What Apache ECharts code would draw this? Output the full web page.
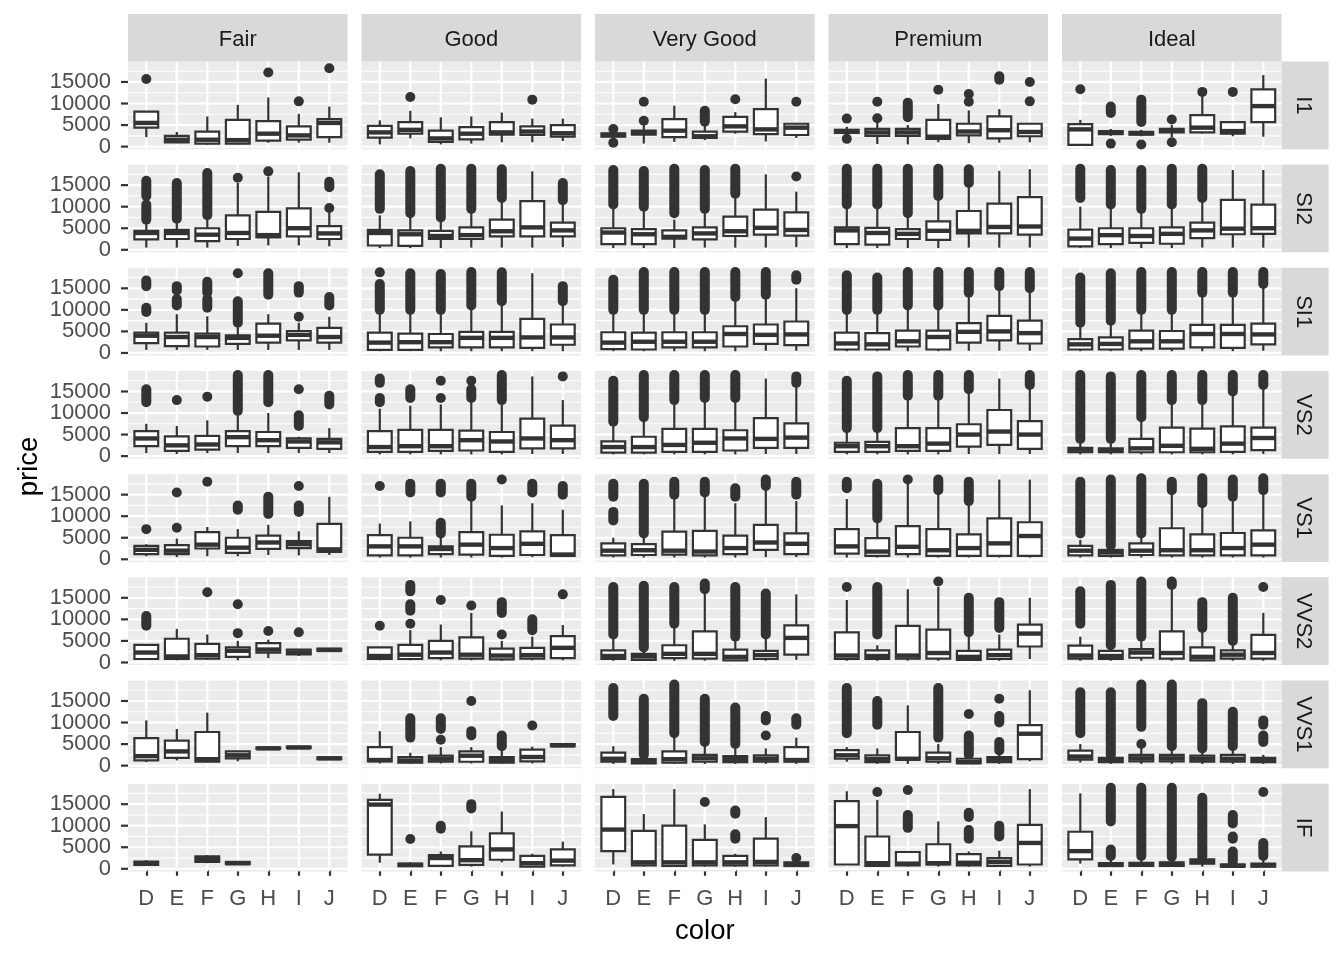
<!DOCTYPE html>
<html><head><meta charset="utf-8">
<script src="https://cdn.jsdelivr.net/npm/echarts@6/dist/echarts.min.js"></script>
<style>html,body{margin:0;padding:0;background:#fff}#c{width:1344px;height:960px}</style>
</head><body><div id="c"></div>
<script>
const cuts = ['Fair', 'Good', 'Very Good', 'Premium', 'Ideal'];
const colors = ['D', 'E', 'F', 'G', 'H', 'I', 'J'];
const clarities = ['I1', 'SI2', 'SI1', 'VS2', 'VS1', 'VVS2', 'VVS1', 'IF'];
const yTicks = [0, 5000, 10000, 15000];
const yMinor = [2500, 7500, 12500, 17500];

// box statistics per clarity: [cut][color] = [lower whisker, Q1, median, Q3, upper whisker]
const box_I1 = [
  [[2200,4400,5500,8100,8100],[800,1000,1600,2500,3400],[400,700,1600,3500,7000],[500,700,1500,6200,9700],[900,1400,3000,5900,11400],[900,1600,2600,4700,7600],[900,2200,5500,6400,9300]],
  [[500,2100,3300,4800,6100],[1900,3000,3900,5700,8300],[500,1100,1900,3700,6800],[700,1700,3000,4500,7000],[1000,2800,3300,5700,7900],[1000,2700,3500,4700,6500],[1300,2300,3100,5000,6500]],
  [[1600,2300,2700,3100,3700],[700,2800,3200,3700,5000],[1100,2200,3700,6400,9500],[1500,2000,2400,3500,5000],[3000,3500,4700,6900,8000],[1200,2900,4000,8700,15800],[2000,2700,4400,5300,5500]],
  [[2600,3200,3600,3900,4600],[600,2500,3300,4100,6000],[500,2500,3300,4100,5000],[1000,1800,2300,6200,9900],[800,2600,3500,5300,8400],[900,1900,3800,7000,8700],[1000,2400,3400,5300,5500]],
  [[300,400,4000,5200,6200],[2500,2900,3300,3600,4100],[2400,2800,3100,3400,3900],[2200,3300,3700,4100,5000],[3000,3300,4400,7300,11800],[2400,3000,3600,5700,5700],[2300,5700,9400,13300,16600]]
];
// outliers: single values, or [from, to] for a dense run of points
const out_I1 = [
  [[15700],[],[],[],[17200],[10500],[18200]],
  [[],[11500],[],[],[],[10900],[]],
  [[900,4100],[6000,10400],[],[[5800,8300]],[11000],[],[10400]],
  [[1800,6500],[6600,10400],[[6800,10200]],[13200],[10400,12200],[[15500,16300]],[10500,15000]],
  [[13300],[700,[7800,9300]],[500,[5700,10900]],[1000,6300],[12700],[12700],[]]
];

const box_SI2 = [
  [[500,2400,3900,4400,6500],[500,2500,3900,4600,6500],[500,2000,3500,5000,7000],[900,2500,3900,8000,15500],[1000,2900,3400,8800,17000],[1000,3100,5000,9600,18000],[800,2500,3800,5500,9000]],
  [[400,1000,3900,4600,8000],[400,900,3600,4500,8000],[400,2500,3200,4400,7000],[500,2500,3400,5200,9000],[500,3100,4300,7000,11500],[500,3100,5200,11300,18200],[600,3100,4500,6300,10500]],
  [[400,1300,4000,5000,10000],[400,1300,3600,4800,9500],[400,2600,3000,4500,7000],[500,2400,3800,5200,9000],[500,3200,4300,7700,12500],[500,3500,5100,9300,17500],[600,3300,4600,8700,13500]],
  [[400,1300,4500,5200,10000],[400,1200,3900,5100,10000],[400,2500,3700,4800,8000],[400,2300,4400,6600,12000],[500,3800,4400,9000,15000],[500,3800,5300,10700,18300],[500,3500,5400,12200,18700]],
  [[400,800,2600,4700,10000],[400,1300,3400,5000,10000],[400,1600,3200,5000,9000],[400,1400,3700,5200,10000],[500,2700,4500,6300,11500],[500,3600,4900,11600,18500],[500,3700,5000,10500,18500]]
];
const out_SI2 = [
  [[[7000,10500],[12500,16000]],[[7200,15500]],[[8000,17800]],[16700],[18200],[],[9700,[14500,15800]]],
  [[[9500,17500]],[[8500,18300]],[[7500,18800]],[[9500,18800]],[[12000,18700]],[],[[11500,15500]]],
  [[[10500,18500]],[[10000,18300]],[[8500,18800]],[[9500,18500]],[[13000,18800]],[],[17000]],
  [[[10500,18800]],[[10500,18800]],[[8500,18800]],[[12500,18800]],[[15500,18700]],[],[]],
  [[[12000,18800]],[[10500,18500]],[[9500,18500]],[[10500,18800]],[[12000,18800]],[],[]]
];

const box_SI1 = [
  [[700,2300,4000,4700,7000],[700,1600,3700,4700,9000],[700,1500,3700,4500,8500],[700,2100,3500,4100,6000],[700,2400,4000,6800,9000],[700,2900,4200,5100,7000],[700,2400,3700,5800,8400]],
  [[400,700,2400,4700,9500],[400,700,2500,4500,9500],[400,1300,2500,4400,9000],[400,1300,3500,4900,10000],[400,1300,3500,4900,11000],[400,1200,3600,7900,18500],[400,1900,3600,6600,11500]],
  [[400,900,2400,4800,9500],[400,800,2600,4700,9500],[400,1300,2600,4800,9500],[400,1300,2600,4800,9500],[400,1500,4400,6200,12500],[500,2100,4200,6600,13000],[500,1800,4300,7300,15000]],
  [[400,800,2200,4700,9500],[400,800,2000,4600,9500],[400,1500,2700,5200,10500],[400,800,3700,5200,10500],[500,2400,4900,6900,13500],[500,2900,5000,8600,15000],[500,2200,4600,7500,14500]],
  [[400,800,2000,3200,6500],[400,800,2100,3600,7000],[400,1000,2700,5200,9500],[400,1000,2700,5100,9500],[400,1300,4400,6500,13500],[400,1200,4400,6500,13500],[500,2000,4300,6800,15500]]
];
const out_SI1 = [
  [[[9500,10500],[15500,16800]],[[11000,12500],[14500,15500]],[[10500,12500],[14000,16500]],[[7000,12000],18500],[[13500,18500]],[8400,[14000,15500]],[[11000,13000]]],
  [[[10000,16000],18700],[[10000,18500]],[[10000,18300]],[[11000,18800]],[[12000,18700]],[],[[12000,15500]]],
  [[[10000,17000]],[[10000,18800]],[[10000,18800]],[[10000,18800]],[[13000,18800]],[[13500,18800]],[[17000,18000]]],
  [[[10000,18000]],[[10000,17500]],[[11000,18800]],[[11000,18800]],[[14000,18800]],[[15500,18800]],[[15000,18800]]],
  [[[7000,17500]],[[7500,18500]],[[10000,18800]],[[10000,18800]],[[14000,18800]],[[14000,18800]],[[16000,18800]]]
];

const box_VS2 = [
  [[700,2300,4100,5800,7500],[500,1200,2500,4600,7000],[700,1500,2700,4700,8300],[700,2300,4400,5800,9500],[700,2300,3700,5600,10000],[700,1900,3400,4100,4500],[700,1700,3200,4000,6500]],
  [[400,1000,2100,5800,11000],[400,1000,2300,6100,11700],[400,1200,2300,6100,12000],[400,1300,3700,5900,12500],[400,1000,3400,5600,12000],[500,1800,4100,8700,18500],[500,1800,3700,7100,13000]],
  [[400,800,2100,3400,7500],[400,800,2100,4500,8500],[400,1000,2600,6300,12500],[400,1000,3100,6300,13000],[400,1300,4100,6000,13000],[500,1900,4000,8800,18000],[500,1900,4300,7600,16000]],
  [[400,1000,2300,3100,6000],[400,1000,2300,3300,6000],[400,1200,2300,6500,13500],[400,1200,2900,6500,13500],[500,2200,5000,7400,15000],[500,2600,5700,10700,18000],[500,1700,5000,8100,16000]],
  [[400,900,1500,1900,3500],[400,900,1300,1800,3500],[400,900,1800,4000,8500],[400,900,2400,6600,12500],[400,900,1700,6400,12500],[400,1000,2900,6900,14500],[500,1400,4200,6600,16000]]
];
const out_VS2 = [
  [[[12500,15500]],[13000],[13800],[[10500,18800]],[[12500,18800]],[[7000,9500],15500],[[12000,14000]]],
  [[[12500,13500],[17000,18000]],[[13500,15500]],[13500,17500],[[13500,15500],17500],[[13000,18800]],[],[18500]],
  [[[8000,17500]],[[9000,18800]],[[13000,18800]],[[13500,18800]],[[13500,18800]],[],[[17000,18500]]],
  [[[6500,17500]],[[6500,18500]],[[14000,18800]],[[14000,18800]],[[15500,18800]],[],[[16500,18800]]],
  [[[4000,18800]],[[4000,18500]],[[9000,18800]],[[13000,18800]],[[13000,18800]],[[15000,18800]],[[16500,18800]]]
];

const box_VS1 = [
  [[700,1200,2200,3100,3500],[500,1200,2000,3300,4800],[700,2500,3400,6300,7500],[700,1500,2700,5000,7000],[1000,2400,3900,5500,8000],[900,2600,3500,4200,6500],[1000,1700,2300,8200,14500]],
  [[400,900,3000,5600,8300],[400,900,3000,5000,8800],[400,1200,2400,3000,5000],[400,1100,3400,6300,14000],[400,800,2600,5700,12500],[500,1000,3600,6500,13000],[500,800,1100,5600,11500]],
  [[400,900,2000,3700,5000],[400,1000,2100,3500,5500],[400,1100,2000,6400,14500],[400,900,1800,6600,15000],[400,1200,2600,5500,13000],[500,2200,3900,8000,16500],[500,1200,3600,6000,13500]],
  [[400,1300,3000,7000,14000],[400,800,1800,4900,9000],[400,1200,2900,7700,18000],[400,800,2100,7000,15500],[400,800,2600,5800,12500],[400,800,3700,9500,18500],[400,800,5400,8600,18500]],
  [[400,900,2000,3100,4500],[400,800,1600,2200,2800],[400,1000,2000,3700,5500],[400,900,2100,7200,15500],[400,900,2100,5800,12500],[400,900,2600,6100,14000],[400,900,3400,6700,15500]]
];
const out_VS1 = [
  [[7000],[7300,15500],[18000],[[11500,12500]],[[10500,14500]],[[11000,12500],17000],[]],
  [[17000],[[15500,17500]],[[6000,8500],[15500,17500]],[[14500,17500]],[18500],[[15500,17500]],[[15000,17000]]],
  [[[9000,11000],[14500,17500]],[[6000,17500]],[[15000,18000]],[[15500,18000]],[[14500,16500]],[[17000,18500]],[[15000,18000]]],
  [[[16500,18000]],[[9500,17500]],[18500],[[16000,18500]],[[13500,18000]],[],[]],
  [[[6000,18000]],[[3200,18500]],[[6000,18800]],[[16000,18000]],[[13000,18800]],[[14500,18500]],[[16000,18800]]]
];

const box_VVS2 = [
  [[600,800,2300,4100,4200],[500,800,1400,5500,7800],[600,900,1700,4300,6500],[500,1300,2700,3500,5000],[1000,2300,3000,4500,5300],[1500,1900,2300,3000,3000],[2600,2700,2900,3200,3300]],
  [[500,800,1500,3500,3500],[500,800,1800,4100,7500],[500,1000,2300,5000,8800],[500,900,1800,5800,11500],[400,700,1600,3200,5000],[500,900,1700,3400,6000],[500,1000,3400,6100,8700]],
  [[400,800,1500,2800,5500],[400,600,1400,2000,3000],[400,1000,2000,4000,8500],[400,900,2000,7200,16500],[400,500,1300,3000,5500],[400,800,1700,2700,5500],[600,1800,5700,8600,15800]],
  [[400,800,1600,7000,14500],[400,800,1500,2800,4000],[400,900,1600,8500,17000],[400,900,2200,7600,17500],[400,600,1300,2700,6000],[400,800,1700,3000,6500],[800,3700,6700,8800,15000]],
  [[400,900,1600,3900,6000],[400,800,1500,2700,3500],[400,1100,2300,3100,5800],[400,900,2200,7200,17500],[400,500,1300,3500,7500],[400,900,1800,2800,4500],[400,900,2200,6400,11500]]
];
const out_VVS2 = [
  [[[8500,10800]],[],[16300],[6800,13500],[7300],[7000],[]],
  [[8500],[9000,[12000,13500],[16500,18000]],[14500],[13200],[6500,[11500,14000]],[[7500,10000]],[15800]],
  [[[6500,17500]],[[3500,17800]],[[9000,17500]],[[17000,18300]],[[6000,17500]],[[6500,16000]],[]],
  [[17500],[[6500,17500]],[],[18800],[[7000,15000]],[[8000,14000]],[]],
  [[[9000,16500]],[[4000,18000]],[[6000,18800]],[[18000,18800]],[[8000,14000]],[[5000,15000]],[17500]]
];

const box_VVS1 = [
  [[800,1200,2200,6400,10500],[1200,1800,3300,5800,8500],[700,900,1500,7800,12300],[1000,1700,2400,3300,3300],[3800,3900,4000,4200,4200],[4000,4100,4200,4400,4400],[1500,1500,1700,1900,1900]],
  [[500,1000,1300,4300,8000],[500,700,1200,2000,3000],[500,900,1600,2300,4300],[500,900,2300,3300,4300],[500,700,1300,2000,3500],[500,1000,2000,3700,4400],[4500,4500,4700,5000,5000]],
  [[400,900,1600,3000,4500],[400,500,1000,1500,2000],[400,700,1500,3300,7000],[400,900,1700,2500,5000],[400,800,1500,2200,4000],[400,900,1600,2400,4000],[400,900,1300,4300,6500]],
  [[900,1600,2400,3600,4300],[400,800,1500,2400,4000],[400,1400,1600,7800,14000],[400,900,1700,3000,5000],[400,600,800,1600,2200],[400,800,1300,2000,3000],[1000,1500,7400,9400,17500]],
  [[700,1400,2100,3500,5000],[400,800,1200,1800,2300],[400,1000,1700,2500,4000],[400,1000,1700,2500,4000],[400,900,1600,2300,3500],[400,900,1600,2500,4000],[400,800,1200,1800,2500]]
];
const out_VVS1 = [
  [[],[],[],[],[],[],[]],
  [[],[[6500,11000]],[6000,[8500,11000]],[[7000,8000],15000],[[4500,7000]],[9300],[]],
  [[[11500,18000]],[[2500,15500]],[[7500,18800]],[[5500,15500]],[[5000,13500]],[7000,[10500,11500]],[[9500,11000]]],
  [[[7500,18000]],[[9500,15000]],[],[[6500,18000]],[[2500,7000],12000],[[3500,5500],[10000,11500],15500],[]],
  [[[7500,17000]],[[2500,17000]],[5000,[9000,18800]],[[4500,18800]],[[4000,14500]],[[4500,12500]],[[5500,7000],[9500,10500]]]
];

const box_IF = [
  [[700,900,1300,1700,2000],null,[1300,1600,2300,2900,3200],[1000,1100,1300,1600,1700],null,null,null],
  [[1400,3300,14900,16000,17400],[500,600,900,1200,1500],[500,700,2500,3200,4000],[500,900,2000,5200,8700],[1500,2100,4500,8200,13300],[500,500,1300,3000,3500],[500,800,1900,4500,6300]],
  [[1000,4100,9100,16700,18500],[500,800,1500,8800,12700],[500,700,1500,10000,18500],[500,800,1500,6700,10300],[500,800,1500,3000,3500],[500,800,1600,7000,12000],[500,700,900,1500,2000]],
  [[1000,1000,9900,15700,18000],[500,700,1300,7500,16000],[500,800,1200,3900,4000],[500,1000,1300,5700,11000],[500,800,1400,3400,4000],[500,700,1600,2500,4200],[500,1000,6000,10200,18500]],
  [[1200,2200,4100,8600,17500],[500,700,900,1300,2500],[500,700,1000,1400,2500],[500,700,1100,1500,2500],[500,1200,1600,2200,2600],[500,500,700,1000,1500],[500,500,800,1200,2500]]
];
const out_IF = [
  [[],[],[],[],[],[],[]],
  [[],[6900],[[9300,10000]],[[14000,15000]],[],[],[]],
  [[],[],[],[15500],[[7000,8000],[12800,13500]],[],[2500]],
  [[],[17800],[[9500,12500],18300],[],[[7000,9000],[12000,13000]],[[7500,10000]],[]],
  [[],[[3000,4500],[11000,18800]],[[3000,18800]],[[2800,18800]],[[2800,16500]],[[1700,4000],[7000,7500],[10500,12500]],[[3000,6000],17800]]
];

const boxRows = [box_I1, box_SI2, box_SI1, box_VS2, box_VS1, box_VVS2, box_VVS1, box_IF];
const outRows = [out_I1, out_SI2, out_SI1, out_VS2, out_VS1, out_VVS2, out_VVS1, out_IF];

// ---------- layout & style ----------
const FONT = '"Liberation Sans", Arial, sans-serif';
const INK = '#333333';
const X_MIN = 0.4, X_MAX = 7.6;
const Y_MIN = -599, Y_MAX = 19748;
const BOX_W = 0.78;
const PANEL_L = 128, PANEL_W = 219.6, COL_PITCH = 233.5;
const PANEL_T = 61.5, PANEL_H = 87.7, ROW_PITCH = 103.17;
const STRIP_TOP = 14, STRIP_R_W = 47;

function lineEl(p0, p1, w, color) {
  return { type: 'line', shape: { x1: p0[0], y1: p0[1], x2: p1[0], y2: p1[1] }, style: { stroke: color, lineWidth: w } };
}
// panel grid lines (+ y ticks and tick labels on the left column), placed through the axis scales
function makeGridRenderer(withYLabels) {
  return function (params, api) {
    const ch = [];
    yMinor.forEach(v => ch.push(lineEl(api.coord([X_MIN, v]), api.coord([X_MAX, v]), 1.1, '#ffffff')));
    yTicks.forEach(v => ch.push(lineEl(api.coord([X_MIN, v]), api.coord([X_MAX, v]), 2.2, '#ffffff')));
    colors.forEach((c, i) => ch.push(lineEl(api.coord([i + 1, Y_MIN]), api.coord([i + 1, Y_MAX]), 2.2, '#ffffff')));
    if (withYLabels) {
      yTicks.forEach(v => {
        const p = api.coord([X_MIN, v]);
        ch.push(lineEl([p[0] - 7, p[1]], [p[0], p[1]], 2.2, INK));
        ch.push({ type: 'text', x: p[0] - 17, y: p[1],
          style: { text: String(v), fontSize: 22, fontFamily: FONT, fill: '#4D4D4D', align: 'right', verticalAlign: 'middle' } });
      });
    }
    return { type: 'group', children: ch };
  };
}
function renderBox(params, api) {
  const x = api.value(0);
  const lo = api.coord([x, api.value(1)]);
  const q1 = api.coord([x, api.value(2)]);
  const md = api.coord([x, api.value(3)]);
  const q3 = api.coord([x, api.value(4)]);
  const hi = api.coord([x, api.value(5)]);
  const hw = api.size([BOX_W, 0])[0] / 2;
  return {
    type: 'group', children: [
      lineEl(lo, q1, 2.2, INK),
      lineEl(q3, hi, 2.2, INK),
      { type: 'rect', shape: { x: q1[0] - hw, y: q3[1], width: 2 * hw, height: Math.max(q1[1] - q3[1], 0.5) },
        style: { fill: '#ffffff', stroke: INK, lineWidth: 2.2 } },
      lineEl([md[0] - hw, md[1]], [md[0] + hw, md[1]], 4.4, INK)
    ]
  };
}
function renderRun(params, api) {
  const x = api.value(0);
  const a = api.coord([x, api.value(1)]);
  const b = api.coord([x, api.value(2)]);
  return { type: 'line', shape: { x1: a[0], y1: a[1], x2: b[0], y2: b[1] },
    style: { stroke: INK, lineWidth: 10, lineCap: 'round' } };
}

const grids = [], xAxes = [], yAxes = [], series = [], graphics = [];
clarities.forEach((cl, r) => {
  cuts.forEach((cut, c) => {
    const gi = grids.length;
    const left = PANEL_L + c * COL_PITCH, top = PANEL_T + r * ROW_PITCH;
    grids.push({ left: left, top: top, width: PANEL_W, height: PANEL_H, show: true,
      backgroundColor: '#EBEBEB', borderWidth: 0, containLabel: false, outerBoundsMode: 'none' });
    const bottom = r === clarities.length - 1, leftCol = c === 0;
    const tickVals = colors.map((k, i) => i + 1);
    xAxes.push({ type: 'value', gridIndex: gi, min: X_MIN, max: X_MAX,
      axisLine: { show: false }, splitLine: { show: false },
      axisTick: { show: bottom, customValues: tickVals, length: 7, lineStyle: { color: INK, width: 2.2 } },
      axisLabel: { show: bottom, customValues: tickVals, formatter: v => colors[Math.round(v) - 1] || '',
        interval: 0, showMinLabel: true, showMaxLabel: true, hideOverlap: false,
        fontSize: 22, color: '#4D4D4D', fontFamily: FONT, margin: 17 } });
    yAxes.push({ type: 'value', gridIndex: gi, min: Y_MIN, max: Y_MAX,
      axisLine: { show: false }, splitLine: { show: false },
      axisTick: { show: false }, axisLabel: { show: false } });

    series.push({ type: 'custom', xAxisIndex: gi, yAxisIndex: gi, silent: true, z: 1, clip: false,
      renderItem: makeGridRenderer(leftCol), data: [[4, 9000]], encode: { x: 0, y: 1 } });

    const bData = [], runData = [], ptData = [];
    boxRows[r][c].forEach((b, i) => {
      if (b) bData.push([i + 1].concat(b));
      (outRows[r][c][i] || []).forEach(o => {
        if (Array.isArray(o)) runData.push([i + 1, o[0], o[1]]);
        else ptData.push([i + 1, o]);
      });
    });
    series.push({ type: 'custom', xAxisIndex: gi, yAxisIndex: gi, silent: true, z: 3,
      renderItem: renderRun, data: runData, encode: { x: 0, y: [1, 2] } });
    series.push({ type: 'scatter', xAxisIndex: gi, yAxisIndex: gi, silent: true, z: 3,
      symbol: 'circle', symbolSize: 10, itemStyle: { color: INK, opacity: 1 }, data: ptData });
    series.push({ type: 'custom', xAxisIndex: gi, yAxisIndex: gi, silent: true, z: 4,
      renderItem: renderBox, data: bData, encode: { x: 0, y: [1, 2, 3, 4, 5] } });
  });
});

// strips (top: cut, right: clarity)
cuts.forEach((cut, c) => {
  const left = PANEL_L + c * COL_PITCH;
  graphics.push({ type: 'rect', shape: { x: left, y: STRIP_TOP, width: PANEL_W, height: PANEL_T - STRIP_TOP },
    style: { fill: '#D9D9D9' }, silent: true });
  graphics.push({ type: 'text', x: left + PANEL_W / 2, y: (STRIP_TOP + PANEL_T) / 2 + 2.5,
    style: { text: cut, fontSize: 22, fontFamily: FONT, fill: '#1A1A1A', align: 'center', verticalAlign: 'middle' }, silent: true });
});
const stripX = PANEL_L + 4 * COL_PITCH + PANEL_W;
clarities.forEach((cl, r) => {
  const top = PANEL_T + r * ROW_PITCH;
  graphics.push({ type: 'rect', shape: { x: stripX, y: top, width: STRIP_R_W, height: PANEL_H },
    style: { fill: '#D9D9D9' }, silent: true });
  graphics.push({ type: 'text', x: stripX + STRIP_R_W / 2 - 2.5, y: top + PANEL_H / 2, rotation: -Math.PI / 2,
    style: { text: cl, fontSize: 22, fontFamily: FONT, fill: '#1A1A1A', align: 'center', verticalAlign: 'middle' }, silent: true });
});
// axis titles
const plotMidX = PANEL_L + (4 * COL_PITCH + PANEL_W) / 2;
const plotMidY = PANEL_T + (7 * ROW_PITCH + PANEL_H) / 2;
graphics.push({ type: 'text', x: plotMidX, y: 931.5,
  style: { text: 'color', fontSize: 27.5, fontFamily: FONT, fill: '#000000', align: 'center', verticalAlign: 'middle' }, silent: true });
graphics.push({ type: 'text', x: 29, y: plotMidY, rotation: Math.PI / 2,
  style: { text: 'price', fontSize: 27.5, fontFamily: FONT, fill: '#000000', align: 'center', verticalAlign: 'middle' }, silent: true });

const chart = echarts.init(document.getElementById('c'), null, { renderer: 'canvas', width: 1344, height: 960 });
chart.setOption({
  backgroundColor: '#ffffff',
  animation: false,
  grid: grids, xAxis: xAxes, yAxis: yAxes, series: series,
  graphic: { elements: graphics }
});
</script>
</body></html>
